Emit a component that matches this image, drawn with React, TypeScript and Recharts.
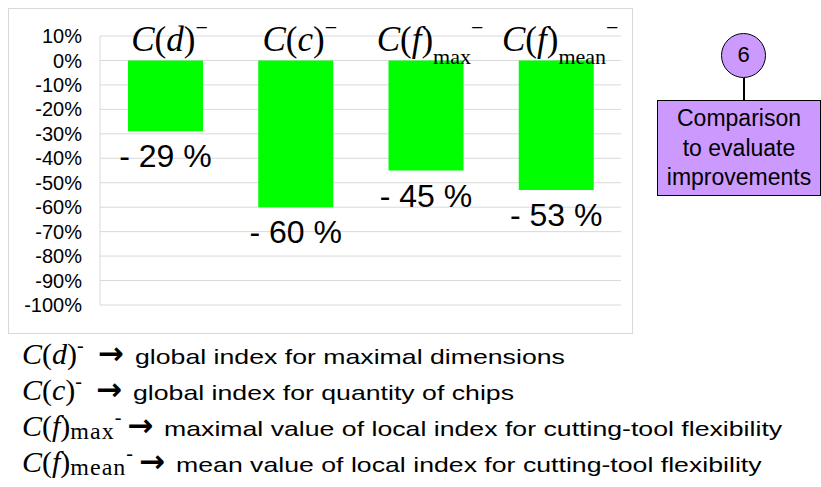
import React from 'react';
import { BarChart, Bar, XAxis, YAxis, CartesianGrid, LabelList } from 'recharts';

// Category keys and how their header formula is written: C(var)_sub^-
const CATEGORIES = ['C(d)-', 'C(c)-', 'C(f)max-', 'C(f)mean-'];
const FORMULA_VARS = ['d', 'c', 'f', 'f'];
const FORMULA_SUBS = ['', '', 'max', 'mean'];

// Reduction of each index (fraction)
const REDUCTIONS = [-0.29, -0.6, -0.45, -0.53];

// Y axis ticks, 10% down to -100%
const Y_TICKS = [0.1, 0, -0.1, -0.2, -0.3, -0.4, -0.5, -0.6, -0.7, -0.8, -0.9, -1];

// Explanation lines below the chart
const LEGEND_TEXTS = [
  'global index for maximal dimensions',
  'global index for quantity of chips',
  'maximal value of local index for cutting-tool flexibility',
  'mean value of local index for cutting-tool flexibility',
];

const STEP_NUMBER = '6';
const STEP_LINES = ['Comparison', 'to evaluate', 'improvements'];

const data = CATEGORIES.map((key, i) => ({ key, value: REDUCTIONS[i] }));

const SERIF = "'Liberation Serif', 'Times New Roman', serif";
const SANS = "'Liberation Sans', Arial, sans-serif";
const BOX_FILL = '#cc99ff';

const pctTick = (v: number) => `${Math.round(v * 100)}%`;

// Header formula drawn just above the zero line of each bar
const HeaderLabel = (props: any) => {
  const { x, y, width, height, index } = props;
  const top = Math.min(y, y + height);
  const sub = FORMULA_SUBS[index];
  return (
    <text x={x + width / 2 + 4} y={top - 9} textAnchor="middle" fontFamily={SERIF} fontSize={35} fill="#000">
      <tspan fontStyle="italic">C</tspan>
      <tspan>(</tspan>
      <tspan fontStyle="italic">{FORMULA_VARS[index]}</tspan>
      <tspan>)</tspan>
      {sub ? (
        <tspan fontSize={22} dy={13}>
          {sub}
        </tspan>
      ) : null}
      <tspan fontSize={22} dy={sub ? -29 : -16}>
        −
      </tspan>
    </text>
  );
};

// "- 29 %" style label below the end of each bar
const ValueLabel = (props: any) => {
  const { x, y, width, height, value } = props;
  const bottom = Math.max(y, y + height);
  return (
    <text x={x + width / 2} y={bottom + 36} textAnchor="middle" fontFamily={SANS} fontSize={32} fill="#000">
      {`- ${Math.round(-value * 100)} %`}
    </text>
  );
};

export default function App() {
  return (
    <div
      style={{
        position: 'absolute',
        left: 0,
        top: 0,
        width: 821,
        height: 487,
        background: '#fff',
        overflow: 'hidden',
        fontFamily: SANS,
        color: '#000',
      }}
    >
      {/* chart frame */}
      <div
        style={{
          position: 'absolute',
          left: 8,
          top: 8,
          width: 625,
          height: 326,
          boxSizing: 'border-box',
          border: '1px solid #d9d9d9',
        }}
      >
        <BarChart width={623} height={324} data={data} margin={{ top: 27, right: 11, bottom: 28, left: 0 }}>
          <CartesianGrid vertical={false} stroke="#d9d9d9" />
          <XAxis dataKey="key" hide />
          <YAxis
            type="number"
            domain={[-1, 0.1]}
            ticks={Y_TICKS}
            interval={0}
            width={91}
            tickSize={0}
            tickMargin={18}
            tickLine={false}
            axisLine={{ stroke: '#d9d9d9' }}
            tickFormatter={pctTick}
            tick={{ fill: '#000', fontSize: 20, fontFamily: SANS }}
          />
          <Bar dataKey="value" fill="#00ff00" barSize={75} isAnimationActive={false}>
            <LabelList dataKey="key" content={<HeaderLabel />} />
            <LabelList dataKey="value" content={<ValueLabel />} />
          </Bar>
        </BarChart>
      </div>

      {/* step marker on the right */}
      <div
        style={{
          position: 'absolute',
          left: 721,
          top: 33,
          width: 45,
          height: 45,
          boxSizing: 'border-box',
          borderRadius: '50%',
          border: '1.5px solid #000',
          background: BOX_FILL,
          fontSize: 22,
          lineHeight: '42px',
          textAlign: 'center',
        }}
      >
        {STEP_NUMBER}
      </div>
      <div style={{ position: 'absolute', left: 742.5, top: 78, width: 2, height: 22, background: '#000' }} />
      <div
        style={{
          position: 'absolute',
          left: 657,
          top: 100,
          width: 164,
          height: 96,
          boxSizing: 'border-box',
          border: '1.5px solid #000',
          background: BOX_FILL,
          paddingTop: 3,
          fontSize: 23,
          lineHeight: '29.5px',
          textAlign: 'center',
          whiteSpace: 'nowrap',
        }}
      >
        {STEP_LINES.map((l) => (
          <div key={l}>{l}</div>
        ))}
      </div>

      {/* explanation lines */}
      {LEGEND_TEXTS.map((text, i) => {
        const sub = FORMULA_SUBS[i];
        return (
          <div
            key={i}
            style={{
              position: 'absolute',
              left: 22,
              top: 337 + i * 36,
              display: 'flex',
              alignItems: 'baseline',
              whiteSpace: 'nowrap',
            }}
          >
            <span style={{ fontFamily: SERIF, fontSize: 30 }}>
              <i>C</i>(<i>{FORMULA_VARS[i]}</i>)
            </span>
            {sub ? (
              <span style={{ fontFamily: SERIF, fontSize: 24, letterSpacing: 1, position: 'relative', top: 3 }}>
                {sub}
              </span>
            ) : null}
            <span style={{ fontFamily: SERIF, fontSize: 20, position: 'relative', top: -12 }}>-</span>
            <span
              style={{
                fontFamily: "'DejaVu Sans', sans-serif",
                fontWeight: 'bold',
                fontSize: 31,
                lineHeight: '30px',
                margin: sub ? '0 11px 0 6px' : '0 11px 0 14px',
              }}
            >
              →
            </span>
            <span
              style={{
                fontFamily: SANS,
                fontSize: 21,
                display: 'inline-block',
                transform: 'scaleX(1.27)',
                transformOrigin: 'left',
              }}
            >
              {text}
            </span>
          </div>
        );
      })}
    </div>
  );
}
